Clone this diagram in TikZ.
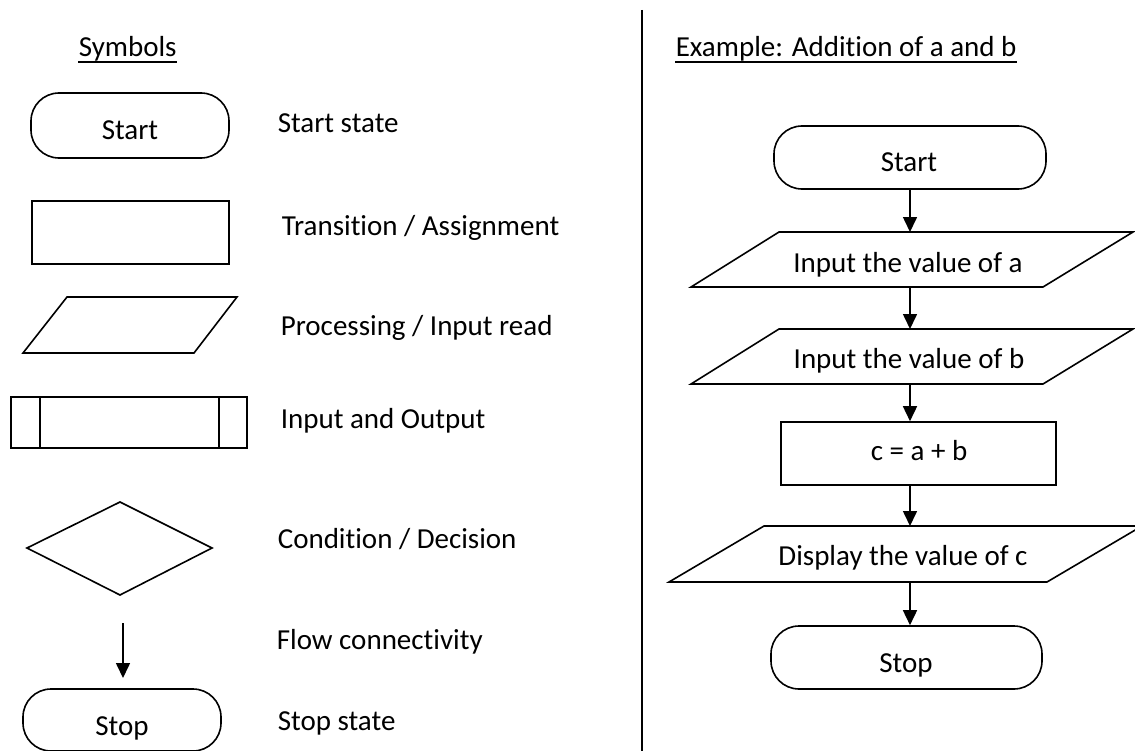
\documentclass[tikz,border=0pt]{standalone}
\usepackage{fontspec}
\setmainfont{Carlito}[Ligatures={NoCommon}]
\usetikzlibrary{arrows.meta}
\tikzset{
  lbl/.style={anchor=base west, inner sep=0pt, font=\fontsize{29bp}{34bp}\selectfont},
  txt/.style={anchor=base, inner sep=0pt, font=\fontsize{29bp}{34bp}\selectfont},
  term/.style={draw, rounded corners=28bp, inner sep=0pt},
  boxshape/.style={draw, inner sep=0pt},
  arr/.style={-{Triangle[width=14bp,length=15bp]}},
  shapeline/.style={line join=miter},
}
\begin{document}
\begin{tikzpicture}[x=1bp,y=-1bp,line width=1.6bp]
\useasboundingbox (0,0) rectangle (1135,751);
\clip (0,0) rectangle (1135,751);

% divider
\coordinate (dtop) at (642,10);
\coordinate (dbot) at (642,751);
\draw (dtop) -- (dbot);

% headings
\node[lbl] (sym) at (78,57) {Symbols};
\draw[line width=1.8bp] ([yshift=-5bp]sym.base west) -- ([yshift=-5bp]sym.base east);
\node[lbl] (ex) at (675,57) {Example: Addition of a and b};
\draw[line width=1.8bp] ([yshift=-5bp]ex.base west) -- ([yshift=-5bp]ex.base east);

% ---------- left: symbols ----------
\node[term, minimum width=198bp, minimum height=65bp] (lstart) at (130,125.5) {};
\node[txt] (lstartt) at (130,139) {Start};
\node[lbl] (l1) at (277,132) {Start state};

\node[boxshape, minimum width=197bp, minimum height=63bp] (lrect) at (130.5,232.5) {};
\node[lbl] (l2) at (281,235) {Transition / Assignment};

\draw[shapeline] (23,353) -- (67,297) -- (237,297) -- (194,353) -- cycle;
\node[lbl] (l3) at (280,335) {Processing / Input read};

\node[boxshape, minimum width=236bp, minimum height=51bp] (lio) at (129,422.5) {};
\coordinate (io1t) at (40,397);
\coordinate (io1b) at (40,448);
\coordinate (io2t) at (219,397);
\coordinate (io2b) at (219,448);
\draw (io1t) -- (io1b);
\draw (io2t) -- (io2b);
\node[lbl] (l4) at (280,428) {Input and Output};

\draw[shapeline] (27,548) -- (120,502) -- (212,548) -- (120,595) -- cycle;
\node[lbl] (l5) at (277,548) {Condition / Decision};

\coordinate (fa) at (123,623);
\coordinate (fb) at (123,678);
\draw[arr] (fa) -- (fb);
\node[lbl] (l6) at (276,649) {Flow connectivity};

\node[term, minimum width=198bp, minimum height=62bp] (lstop) at (122,720) {};
\node[txt] (lstopt) at (122,735) {Stop};
\node[lbl] (l7) at (277,730) {Stop state};

% ---------- right: example ----------
\node[term, minimum width=272bp, minimum height=63bp] (rstart) at (910,157.5) {};
\node[txt] (rstartt) at (909,171) {Start};

\draw[shapeline] (691,287) -- (779,232) -- (1133,232) -- (1043,287) -- cycle;
\coordinate (inaN) at (910,232);
\coordinate (inaS) at (910,287);
\node[txt] (inat) at (908,272) {Input the value of a};

\draw[shapeline] (691,384) -- (779,329) -- (1133,329) -- (1043,384) -- cycle;
\coordinate (inbN) at (910,329);
\coordinate (inbS) at (910,384);
\node[txt] (inbt) at (909,368) {Input the value of b};

\node[boxshape, minimum width=275bp, minimum height=63bp] (calc) at (918.5,453.5) {};
\node[txt] (calct) at (919,460) {c = a + b};

\draw[shapeline] (669,582) -- (764,526) -- (1142,526) -- (1047,582) -- cycle;
\coordinate (dispN) at (910,526);
\coordinate (dispS) at (910,582);
\node[txt] (dispt) at (903,565) {Display the value of c};

\node[term, minimum width=271bp, minimum height=63bp] (rstop) at (906.5,657.5) {};
\node[txt] (rstopt) at (906,672) {Stop};

% connectors
\draw[arr] (rstart.south) -- (inaN);
\draw[arr] (inaS) -- (inbN);
\draw[arr] (inbS) -- (inbS |- calc.north);
\draw[arr] (inbS |- calc.south) -- (dispN);
\draw[arr] (dispS) -- (dispS |- rstop.north);
\end{tikzpicture}
\end{document}
